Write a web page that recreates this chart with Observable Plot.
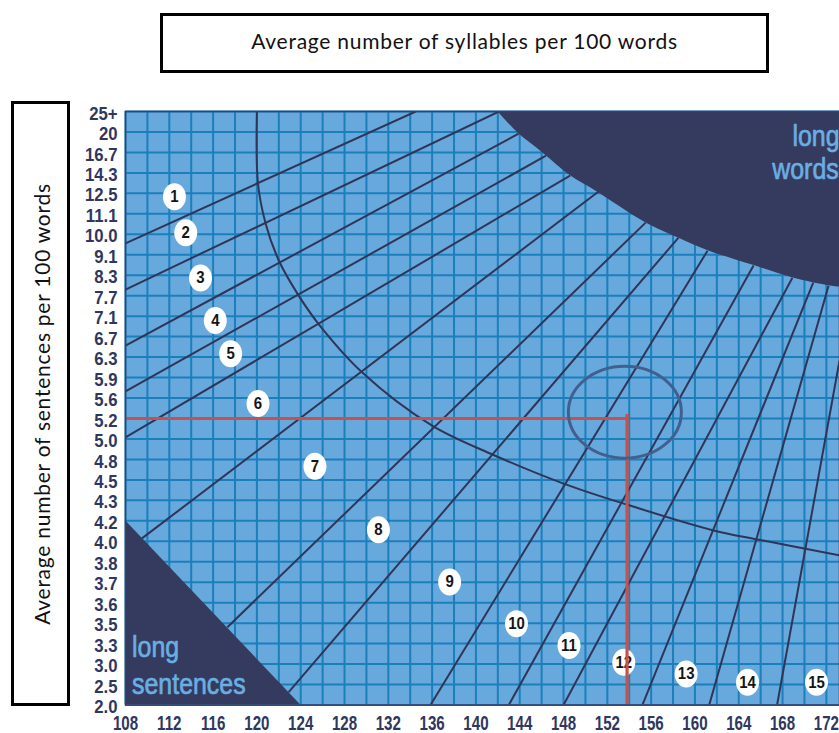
<!DOCTYPE html>
<html>
<head>
<meta charset="utf-8">
<script src="https://cdn.jsdelivr.net/npm/d3@7"></script>
<script src="https://cdn.jsdelivr.net/npm/@observablehq/plot@0.6"></script>
<style>
  html, body { margin: 0; padding: 0; background: #fff; overflow: hidden; }
  #wrap { position: relative; width: 839px; height: 733px; }
  #title { position: relative; height: 100px; }
  #titlebox { position: absolute; left: 160px; top: 13px; width: 609px; height: 60px; box-sizing: border-box;
    border: 3px solid #000; display: flex; align-items: center; justify-content: center; padding-bottom: 6px;
    font-family: Lato, 'Open Sans', sans-serif; font-size: 21px; letter-spacing: 0.75px; color: #111; }
  #ylab { position: absolute; left: 11px; top: 101px; width: 59px; height: 605px; box-sizing: border-box;
    border: 3px solid #000; z-index: 2; background: #fff; }
  #ylab span { position: absolute; left: 50%; top: 50%; transform: translate(-50%, -50%) rotate(-90deg);
    white-space: nowrap; font-family: Lato, 'Open Sans', sans-serif; font-size: 21px; letter-spacing: 0.75px; color: #111; }
  #chart svg { display: block; }
</style>
</head>
<body>
<div id="wrap">
  <div id="title"><div id="titlebox">Average number of syllables per 100 words</div></div>
  <div id="ylab"><span>Average number of sentences per 100 words</span></div>
  <div id="chart"></div>
</div>
<script>
// ---------- data ----------
const syllableTicks = [108, 112, 116, 120, 124, 128, 132, 136, 140, 144, 148, 152, 156, 160, 164, 168, 172];
// sentence labels, bottom row first
const sentenceLabels = ["2.0", "2.5", "3.0", "3.3", "3.5", "3.6", "3.7", "3.8", "4.0", "4.2", "4.3", "4.5", "4.8", "5.0",
  "5.2", "5.6", "5.9", "6.3", "6.7", "7.1", "7.7", "8.3", "9.1", "10.0", "11.1", "12.5", "14.3", "16.7", "20", "25+"];

// grade boundary lines (syllables, row position on the sentence scale)
const lineX1 = [108, 108, 108, 108, 108, 109.5, 117.3, 122.9, 135.85, 143.0, 148.0, 155.2, 161.3, 167.5];
const lineR1 = [22.56, 20.30, 17.56, 15.33, 13.08, 8.14, 3.80, 0.63, 0, 0, 0, 0, 0, 0];
const lineX2 = [134.5, 142.1, 143.9, 146.4, 148.6, 151.2, 155.5, 158.5, 161.15, 165.35, 168.9, 170.8, 172.2, 173.2];
const lineR2 = [29, 29, 27.92, 26.84, 25.87, 25.09, 23.57, 22.84, 22.2, 21.47, 20.88, 20.64, 20.49, 16.83];

// curved divider
const arcX = [120.0, 120.1, 120.8, 122.0, 123.7, 125.6, 129.6, 136.0, 141.3, 148.0, 153.5, 161.7, 165.7, 173.2];
const arcR = [29.0, 25.47, 23.52, 21.72, 20.1, 18.64, 16.26, 13.65, 12.29, 10.82, 9.84, 8.53, 8.09, 7.31];

// "long words" region lower boundary
const longWordsX = [142.0, 143.8, 146.2, 148.6, 150.9, 155.5, 158.4, 161.2, 165.4, 168.9, 172.2, 173.2];
const longWordsR = [29.0, 27.97, 26.94, 25.87, 25.13, 23.57, 22.84, 22.2, 21.47, 20.88, 20.49, 20.42];

// "long sentences" triangle: syllables and top sentence label
const longSentX = [108, 124];
const longSentTop = ["4.2", "2.0"];

// grade level markers
const gradeLabels = ["1", "2", "3", "4", "5", "6", "7", "8", "9", "10", "11", "12", "13", "14", "15"];
const gradeX = [112.47, 113.5, 114.85, 116.2, 117.6, 120.1, 125.3, 131.1, 137.6, 143.7, 148.5, 153.5, 159.2, 164.8, 171.1];
const gradeR = [24.84, 23.07, 20.87, 18.79, 17.16, 14.73, 11.66, 8.56, 6.01, 3.97, 2.91, 2.09, 1.52, 1.11, 1.11];

// worked example
const sampleSyllables = 153.8;
const sampleSentences = "5.2";
const circleX = 153.6, circleR = 14.31;

// region captions
const captionText = ["long", "sentences", "long", "words"];
const captionX = [108.6, 108.6, 168.9, 167.06];
const captionR = [2.80, 1.03, 27.80, 26.19];

// ---------- build ----------
const rowOf = l => sentenceLabels.indexOf(l);
const topRow = sentenceLabels.length - 1;
const gridX = d3.range(108, 174, 2);
const gridY = d3.range(0, topRow + 1);
const lines = lineX1.map((x, i) => ({x1: x, y1: lineR1[i], x2: lineX2[i], y2: lineR2[i]}));
const arc = arcX.map((x, i) => ({x, y: arcR[i]}));
const longWords = longWordsX.map((x, i) => ({x, y: longWordsR[i], top: topRow}));
const longSent = longSentX.map((x, i) => ({x, bottom: 0, top: rowOf(longSentTop[i])}));
const grades = gradeLabels.map((t, i) => ({t, x: gradeX[i], y: gradeR[i]}));
const captions = captionText.map((t, i) => ({t, x: captionX[i], y: captionR[i]}));

function ellipse(rx, ry) {
  const k = 0.5522847;
  return {
    draw(c) {
      c.moveTo(rx, 0);
      c.bezierCurveTo(rx, ry * k, rx * k, ry, 0, ry);
      c.bezierCurveTo(-rx * k, ry, -rx, ry * k, -rx, 0);
      c.bezierCurveTo(-rx, -ry * k, -rx * k, -ry, 0, -ry);
      c.bezierCurveTo(rx * k, -ry, rx, -ry * k, rx, 0);
      c.closePath();
    }
  };
}

const narrow = "'Liberation Sans', Arial, sans-serif";
const navy = "#343b5f";
const lineColor = "#2f3559";
const gridColor = "#1b7fbc";
const cellColor = "#67a9dc";
const sampleRow = rowOf(sampleSentences);

const plot = Plot.plot({
  width: 839,
  height: 633,
  marginTop: 11,
  marginBottom: 28.5,
  marginLeft: 125,
  marginRight: 0,
  x: {domain: [108, 173.2]},
  y: {domain: [0, topRow]},
  style: {background: "transparent"},
  marks: [
    Plot.frame({fill: cellColor}),
    Plot.ruleX(gridX, {stroke: gridColor, strokeWidth: 2}),
    Plot.ruleY(gridY, {stroke: gridColor, strokeWidth: 2}),
    Plot.line(arc, {x: "x", y: "y", curve: "catmull-rom", stroke: lineColor, strokeWidth: 2, clip: true}),
    Plot.link(lines, {x1: "x1", y1: "y1", x2: "x2", y2: "y2", stroke: lineColor, strokeWidth: 2, clip: true}),
    Plot.areaY(longSent, {x: "x", y1: "bottom", y2: "top", fill: navy, clip: true}),
    Plot.areaY(longWords, {x: "x", y1: "y", y2: "top", curve: "catmull-rom", fill: navy, clip: true}),
    Plot.dot(grades, {x: "x", y: "y", r: 10, symbol: ellipse(11.5, 13.5), fill: "white", stroke: "none"}),
    Plot.text(grades, {x: "x", y: "y", text: "t", className: "cond-grade", fontFamily: narrow, fontWeight: "bold", fontSize: 17, fill: "#141414"}),
    Plot.ruleY([sampleRow], {x1: 108, x2: sampleSyllables, stroke: "#c8514c", strokeWidth: 3.2}),
    Plot.ruleX([sampleSyllables], {y1: 0, y2: sampleRow + 0.2, stroke: "#c8514c", strokeWidth: 3.2}),
    Plot.dot([{x: circleX, y: circleR}], {x: "x", y: "y", r: 10, symbol: ellipse(56.5, 46), fill: "none", stroke: "#41608f", strokeWidth: 3}),
    Plot.text(captions, {x: "x", y: "y", text: "t", className: "cond-caption", textAnchor: "start", fontFamily: narrow, fontSize: 30,
      fill: "#6aaee2", stroke: "#6aaee2", strokeWidth: 0.7}),
    Plot.frame({stroke: "#3a4068", strokeWidth: 1.5}),
    Plot.axisX({ticks: syllableTicks, tickFormat: d => String(d), tickSize: 0, tickPadding: 10, label: null,
      fontFamily: narrow, fontWeight: "bold", fontSize: 21, fill: "#2f3760"}),
    Plot.axisY({ticks: gridY, tickFormat: i => sentenceLabels[i], tickSize: 0, tickPadding: 8, dy: 2, label: null,
      fontFamily: narrow, fontWeight: "bold", fontSize: 19, fill: "#2f3760"})
  ]
});
document.getElementById("chart").appendChild(plot);

// emulate the condensed typeface of the original by narrowing glyphs
function condense(selector, factor) {
  plot.querySelectorAll(selector).forEach(t => {
    const w = t.getComputedTextLength();
    if (w > 0) {
      t.setAttribute("textLength", (w * factor).toFixed(2));
      t.setAttribute("lengthAdjust", "spacingAndGlyphs");
    }
  });
}
condense('g[aria-label="x-axis tick label"] text', 0.72);
condense('g[aria-label="y-axis tick label"] text', 0.88);
condense('.cond-grade text', 0.88);
condense('.cond-caption text', 0.83);
</script>
</body>
</html>
